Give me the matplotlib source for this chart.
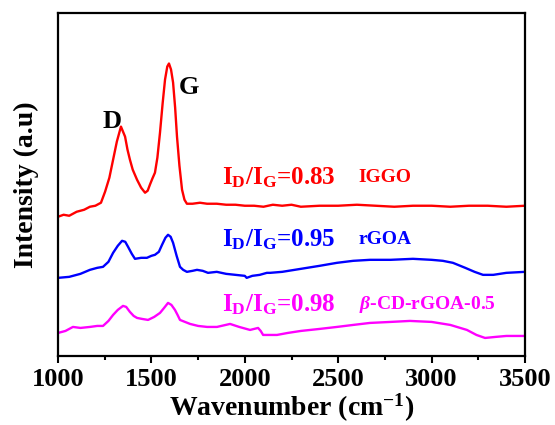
import matplotlib
matplotlib.use("Agg")
import matplotlib.pyplot as plt

plt.rcParams['font.family'] = ['Liberation Serif', 'DejaVu Serif']
plt.rcParams['font.weight'] = 'bold'
plt.rcParams['axes.labelweight'] = 'bold'
plt.rcParams['mathtext.fontset'] = 'custom'
plt.rcParams['mathtext.rm'] = 'Liberation Serif:bold'
plt.rcParams['mathtext.bf'] = 'Liberation Serif:bold'
plt.rcParams['mathtext.it'] = 'Liberation Serif:bold:italic'

# Raman spectra, stacked with an offset (arbitrary units)
wn_iggo = [1000, 1030, 1060, 1100, 1140, 1171, 1200, 1230, 1252, 1275, 1295, 1315,
           1337, 1359, 1372, 1385, 1400, 1423, 1445, 1466, 1480, 1492, 1505, 1519,
           1532, 1546, 1560, 1573, 1585, 1594, 1605, 1616, 1627, 1637, 1650, 1664,
           1677, 1690, 1720, 1760, 1798, 1850, 1900, 1950, 2000, 2050, 2100, 2150,
           2200, 2250, 2300, 2400, 2500, 2600, 2700, 2800, 2900, 3000, 3100, 3200,
           3300, 3400, 3500]
int_iggo = [139, 141, 140, 144, 146, 149, 150, 153, 164, 178, 196, 214,
            229, 219, 206, 196, 186, 176, 168, 163, 165, 171, 177, 183,
            198, 223, 252, 276, 289, 292, 286, 273, 248, 219, 190, 166,
            156, 152, 152, 153, 152, 152, 151, 151, 150, 150, 149, 151,
            150, 151, 149, 150, 150, 151, 150, 149, 150, 150, 149, 150,
            150, 149, 150]

wn_rgoa = [1000, 1060, 1120, 1171, 1210, 1241, 1270, 1295, 1320, 1343, 1360, 1375,
           1395, 1412, 1445, 1476, 1500, 1519, 1540, 1557, 1575, 1589, 1603, 1616,
           1635, 1653, 1670, 1690, 1720, 1744, 1775, 1803, 1850, 1900, 1950, 2000,
           2010, 2040, 2080, 2118, 2135, 2200, 2300, 2400, 2493, 2580, 2670, 2780,
           2900, 3000, 3060, 3114, 3180, 3230, 3275, 3330, 3400, 3500]
int_rgoa = [78, 79, 82, 86, 88, 89, 94, 103, 110, 115, 114, 109,
            102, 97, 98, 98, 100, 101, 104, 111, 118, 121, 119, 113,
            100, 89, 86, 84, 85, 86, 85, 83, 84, 82, 81, 80,
            78, 80, 81, 83, 83, 84, 87, 90, 93, 95, 96, 96,
            97, 96, 95, 93, 88, 84, 81, 81, 83, 84]

wn_cd = [1000, 1040, 1080, 1120, 1171, 1210, 1241, 1270, 1295, 1320, 1348, 1365,
         1385, 1405, 1423, 1450, 1482, 1515, 1546, 1568, 1589, 1607, 1626, 1640,
         1653, 1680, 1707, 1750, 1798, 1851, 1921, 1970, 2028, 2071, 2085, 2098,
         2130, 2172, 2230, 2300, 2400, 2493, 2580, 2670, 2780, 2884, 3000, 3100,
         3189, 3240, 3286, 3340, 3400, 3500]
int_cd = [23, 25, 29, 28, 29, 30, 30, 35, 41, 46, 50, 49,
          44, 40, 38, 37, 36, 39, 43, 48, 53, 51, 46, 41,
          36, 34, 32, 30, 29, 29, 32, 29, 26, 28, 25, 21,
          21, 21, 23, 25, 27, 29, 31, 33, 34, 35, 34, 31,
          26, 21, 18, 19, 20, 20]

ratios = ['0.83', '0.95', '0.98']
names = ['IGGO', 'rGOA', r'$\mathit{\beta}$-CD-rGOA-0.5']
colors = ['#ff0000', '#0000ff', '#ff00ff']
label_y = [178, 116, 51]

fig = plt.figure(figsize=(5.55, 4.25), dpi=100)
ax = fig.add_axes([0.1045, 0.1624, 0.8415, 0.806])

ax.plot(wn_iggo, int_iggo, color=colors[0], lw=1.7)
ax.plot(wn_rgoa, int_rgoa, color=colors[1], lw=1.7)
ax.plot(wn_cd, int_cd, color=colors[2], lw=1.7)

for r, n, c, y in zip(ratios, names, colors, label_y):
    ax.text(1880, y, r'I$_\mathrm{D}$/I$_\mathrm{G}$=' + r, color=c, fontsize=18,
            va='center', ha='left')
    ax.text(2610, y, n, color=c, fontsize=14, va='center', ha='left')

ax.text(1289, 234, 'D', fontsize=19, ha='center', va='center')
ax.text(1700, 268, 'G', fontsize=19, ha='center', va='center')

ax.set_xlim(1000, 3500)
ax.set_ylim(0, 342)
ax.set_xticks([1000, 1500, 2000, 2500, 3000, 3500])
ax.set_xticks([1250, 1750, 2250, 2750, 3250], minor=True)
ax.set_yticks([])
ax.tick_params(axis='x', which='major', labelsize=19, width=1.5, length=5, pad=4)
ax.tick_params(axis='x', which='minor', width=1.5, length=3)
for s in ax.spines.values():
    s.set_linewidth(1.6)

ax.set_xlabel(r'Wavenumber (cm$^{-1}$)', fontsize=20, labelpad=0)
ax.set_ylabel('Intensity (a.u)', fontsize=20, labelpad=14)

fig.savefig('out.png', dpi=100)
